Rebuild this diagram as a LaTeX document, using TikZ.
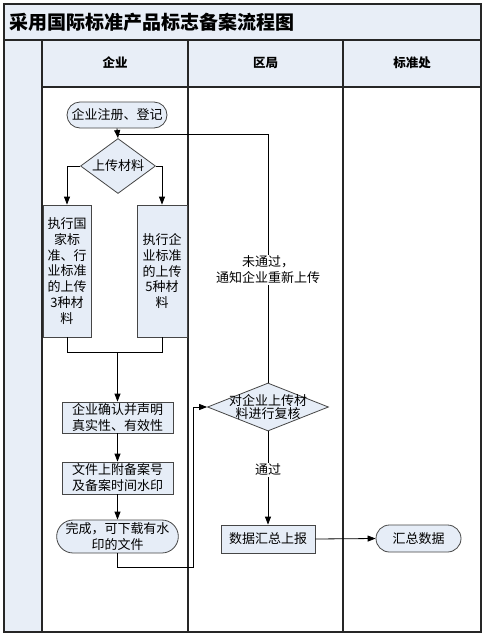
\documentclass[tikz,border=0pt]{standalone}
\usepackage{fontspec}
\setmainfont{Noto Sans CJK SC}
\usetikzlibrary{arrows.meta,shapes.geometric,shapes.misc}
\definecolor{lanefill}{RGB}{232,238,247}
\definecolor{nodefill}{RGB}{230,237,247}
\definecolor{nodeline}{RGB}{70,70,70}
\tikzset{
  laneline/.style={line width=1.4pt, draw=black!85},
  box/.style={draw=nodeline, fill=nodefill, line width=0.8pt, inner sep=1pt, align=center,
    font=\fontsize{13}{16}\selectfont},
  term/.style={box, rounded rectangle},
  dia/.style={draw=nodeline, fill=nodefill, line width=0.8pt, diamond, inner sep=0pt},
  txt/.style={inner sep=0pt, align=center, font=\fontsize{13}{15}\selectfont},
  conn/.style={draw=black, line width=0.8pt},
  arr/.style={conn, -{Triangle[length=8pt,width=6pt]}},
  lbl/.style={fill=white, inner sep=1pt, align=center, font=\fontsize{13}{16}\selectfont},
  head/.style={font=\fontsize{12.5}{15}\selectfont\bfseries}
}
\begin{document}
\begin{tikzpicture}[x=1pt,y=-1pt]
\useasboundingbox (0,0) rectangle (484,635);
% backgrounds
\fill[white] (4,4) rectangle (481,632);
\fill[lanefill] (4,4) rectangle (481,87);
\fill[lanefill] (4,87) rectangle (42,632);
% lane lines
\draw[laneline] (4,40) -- (481,40);
\draw[laneline] (42,87) -- (481,87);
\draw[laneline] (42,40) -- (42,632);
\draw[laneline] (188,40) -- (188,632);
\draw[laneline] (343,40) -- (343,632);
\draw[laneline] (4,4) rectangle (481,632);
% titles
\node[anchor=west, inner sep=0pt, font=\fontsize{19}{19}\selectfont\bfseries] (title) at (9,22) {采用国际标准产品标志备案流程图};
\node[head] (h1) at (115,63) {企业};
\node[head] (h2) at (265.5,63) {区局};
\node[head] (h3) at (412,63) {标准处};
% nodes
\node[term, minimum width=102pt, minimum height=26pt] (start) at (117,115) {企业注册、登记};
\node[dia, minimum width=75pt, minimum height=55pt] (d1) at (118,166) {};
\node[txt] (d1t) at (d1) {上传材料};
\node[box, minimum width=48pt, minimum height=132pt, font=\fontsize{13}{15.7}\selectfont] (ba) at (67,271) {执行国\\家标\\准、行\\业标准\\的上传\\3种材\\料};
\node[box, minimum width=50pt, minimum height=132pt, font=\fontsize{13}{15.7}\selectfont] (bb) at (162,271) {执行企\\业标准\\的上传\\5种材\\料};
\node[box, minimum width=111pt, minimum height=31pt] (confirm) at (117.5,417.5) {企业确认并声明\\真实性、有效性};
\node[box, minimum width=111pt, minimum height=32pt] (file) at (117.5,478) {文件上附备案号\\及备案时间水印};
\node[term, minimum width=121pt, minimum height=33pt] (done) at (117.5,536.5) {完成，可下载有水\\印的文件};
\node[dia, minimum width=121pt, minimum height=48pt] (d2) at (268,407) {};
\node[txt, font=\fontsize{13}{13.5}\selectfont] (d2t) at (d2) {对企业上传材\\料进行复核};
\node[box, minimum width=94pt, minimum height=28pt] (report) at (268,539) {数据汇总上报};
\node[term, minimum width=87pt, minimum height=27pt] (sum) at (418.5,538.5) {汇总数据};
% coordinates
\coordinate (j1) at (117.5,352);
\coordinate (c1) at (193,567);
\coordinate (c2) at (118,134);
% connectors
\draw[arr] (start.south) -- (d1.north);
\draw[arr] (d1.west) -| (ba.north);
\draw[arr] (d1.east) -| (bb.north);
\draw[conn] (ba.south) |- (j1);
\draw[conn] (bb.south) |- (j1);
\draw[arr] (j1) -- (confirm.north);
\draw[arr] (confirm.south) -- (file.north);
\draw[arr] (file.south) -- (done.north);
\draw[arr] (done.south) |- (c1) |- (d2.west);
\draw[conn] (d2.north) |- (c2);
\draw[arr] (d2.south) -- (report.north);
\draw[arr] (report.east) -- (sum.west);
% labels
\node[lbl] (fail) at (268,270) {未通过，\\通知企业重新上传};
\node[lbl] (pass) at (268,470) {通过};
\end{tikzpicture}
\end{document}
